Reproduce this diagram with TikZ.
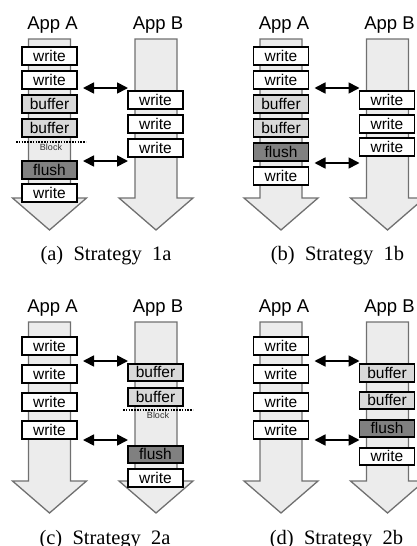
\documentclass[tikz,border=0pt]{standalone}
\usepackage{fontspec}
\setmainfont{Liberation Serif}
\setsansfont{Liberation Sans}
\usetikzlibrary{arrows.meta}

\definecolor{lanefill}{HTML}{ECECEC}
\definecolor{laneline}{HTML}{707070}
\definecolor{buffill}{HTML}{D9D9D9}
\definecolor{flushfill}{HTML}{808080}

% one time line (shaft and head), x of its middle as argument
\newcommand{\lane}[1]{%
  \draw[lane] (#1-21,39) -- (#1+21,39) -- (#1+21,198) -- (#1+37,198)
    -- (#1,230) -- (#1-37,198) -- (#1-21,198) -- cycle;}

\begin{document}
\begin{tikzpicture}[x=1pt,y=-1pt,
    lane/.style={draw=laneline,fill=lanefill,line width=1.3pt},
    app/.style={anchor=base,font=\sffamily\fontsize{18.5}{18.5}\selectfont},
    wbox/.style={draw,fill=white,line width=1.9pt,minimum width=55pt,
      minimum height=17.5pt,inner sep=0pt,text height=10.5pt,text depth=0pt,
      font=\sffamily\fontsize{15.5}{15.5}\selectfont},
    bbox/.style={wbox,fill=buffill},
    fbox/.style={wbox,fill=flushfill},
    sync/.style={line width=1.7pt,{Triangle[length=11pt,width=11pt]}-{Triangle[length=11pt,width=11pt]}},
    blk/.style={line width=2.6pt,dash pattern=on 1.6pt off 1.2pt},
    blktext/.style={font=\sffamily\fontsize{9}{9}\selectfont,text=black!80},
    capt/.style={anchor=base,font=\rmfamily\fontsize{20.5}{20.5}\selectfont}]
    \useasboundingbox (0,0) rectangle (417,546);

    % (a) Strategy 1a
    \lane{49.5} \lane{156}
    \node[app] (a-appA) at (52.5,29) {App A};
    \node[app] (a-appB) at (158,29) {App B};
    \node[wbox] (a-A1) at (49.5,56) {write};
    \node[wbox] (a-A2) at (49.5,80) {write};
    \node[bbox] (a-A3) at (49.5,104) {buffer};
    \node[bbox] (a-A4) at (49.5,128) {buffer};
    \node[fbox] (a-A5) at (49.5,170) {flush};
    \node[wbox] (a-A6) at (49.5,193) {write};
    \node[wbox] (a-B1) at (155.5,100) {write};
    \node[wbox] (a-B2) at (155.5,124) {write};
    \node[wbox] (a-B3) at (155.5,148) {write};
    \coordinate (a-bl) at (16,142);
    \coordinate (a-br) at (86,142);
    \draw[blk] (a-bl) -- (a-br);
    \node[blktext] (a-blk) at (51,147) {Block};
    \coordinate (a-s1) at (83,88);
    \coordinate (a-t1) at (128,88);
    \coordinate (a-s2) at (83,161);
    \coordinate (a-t2) at (128,161);
    \draw[sync] (a-s1) -- (a-t1);
    \draw[sync] (a-s2) -- (a-t2);
    \node[capt] (a-cap) at (106,260) {(a)~~Strategy~~1a};

    % (b) Strategy 1b
    \begin{scope}[shift={(231.5,0)}]
    \lane{49.5} \lane{156}
    \node[app] (b-appA) at (52.5,29) {App A};
    \node[app] (b-appB) at (158,29) {App B};
    \node[wbox] (b-A1) at (49.5,56) {write};
    \node[wbox] (b-A2) at (49.5,80) {write};
    \node[bbox] (b-A3) at (49.5,104) {buffer};
    \node[bbox] (b-A4) at (49.5,128) {buffer};
    \node[fbox] (b-A5) at (49.5,152) {flush};
    \node[wbox] (b-A6) at (49.5,176) {write};
    \node[wbox] (b-B1) at (155.5,100) {write};
    \node[wbox] (b-B2) at (155.5,124) {write};
    \node[wbox] (b-B3) at (155.5,147) {write};
    \coordinate (b-s1) at (83,88);
    \coordinate (b-t1) at (128,88);
    \coordinate (b-s2) at (83,163);
    \coordinate (b-t2) at (128,163);
    \draw[sync] (b-s1) -- (b-t1);
    \draw[sync] (b-s2) -- (b-t2);
    \node[capt] (b-cap) at (106,260) {(b)~~Strategy~~1b};
    \end{scope}

    % (c) Strategy 2a
    \begin{scope}[shift={(0,283)}]
    \lane{49.5} \lane{156}
    \node[app] (c-appA) at (52.5,29) {App A};
    \node[app] (c-appB) at (158,29) {App B};
    \node[wbox] (c-A1) at (49.5,63) {write};
    \node[wbox] (c-A2) at (49.5,91) {write};
    \node[wbox] (c-A3) at (49.5,119) {write};
    \node[wbox] (c-A4) at (49.5,147) {write};
    \node[bbox] (c-B1) at (155.5,89.5) {buffer};
    \node[bbox] (c-B2) at (155.5,114) {buffer};
    \node[fbox] (c-B3) at (155.5,171.5) {flush};
    \node[wbox] (c-B4) at (155.5,195) {write};
    \coordinate (c-bl) at (123,127);
    \coordinate (c-br) at (193,127);
    \draw[blk] (c-bl) -- (c-br);
    \node[blktext] (c-blk) at (158,132) {Block};
    \coordinate (c-s1) at (83,78);
    \coordinate (c-t1) at (128,78);
    \coordinate (c-s2) at (83,157);
    \coordinate (c-t2) at (128,157);
    \draw[sync] (c-s1) -- (c-t1);
    \draw[sync] (c-s2) -- (c-t2);
    \node[capt] (c-cap) at (105,261) {(c)~~Strategy~~2a};
    \end{scope}

    % (d) Strategy 2b
    \begin{scope}[shift={(231.5,283)}]
    \lane{49.5} \lane{156}
    \node[app] (d-appA) at (52.5,29) {App A};
    \node[app] (d-appB) at (158,29) {App B};
    \node[wbox] (d-A1) at (49.5,63) {write};
    \node[wbox] (d-A2) at (49.5,91) {write};
    \node[wbox] (d-A3) at (49.5,119) {write};
    \node[wbox] (d-A4) at (49.5,147) {write};
    \node[bbox] (d-B1) at (155.5,90) {buffer};
    \node[bbox] (d-B2) at (155.5,117.5) {buffer};
    \node[fbox] (d-B3) at (155.5,145.5) {flush};
    \node[wbox] (d-B4) at (155.5,173.5) {write};
    \coordinate (d-s1) at (83,78);
    \coordinate (d-t1) at (128,78);
    \coordinate (d-s2) at (83,157);
    \coordinate (d-t2) at (128,157);
    \draw[sync] (d-s1) -- (d-t1);
    \draw[sync] (d-s2) -- (d-t2);
    \node[capt] (d-cap) at (105,261) {(d)~~Strategy~~2b};
    \end{scope}
\end{tikzpicture}
\end{document}
